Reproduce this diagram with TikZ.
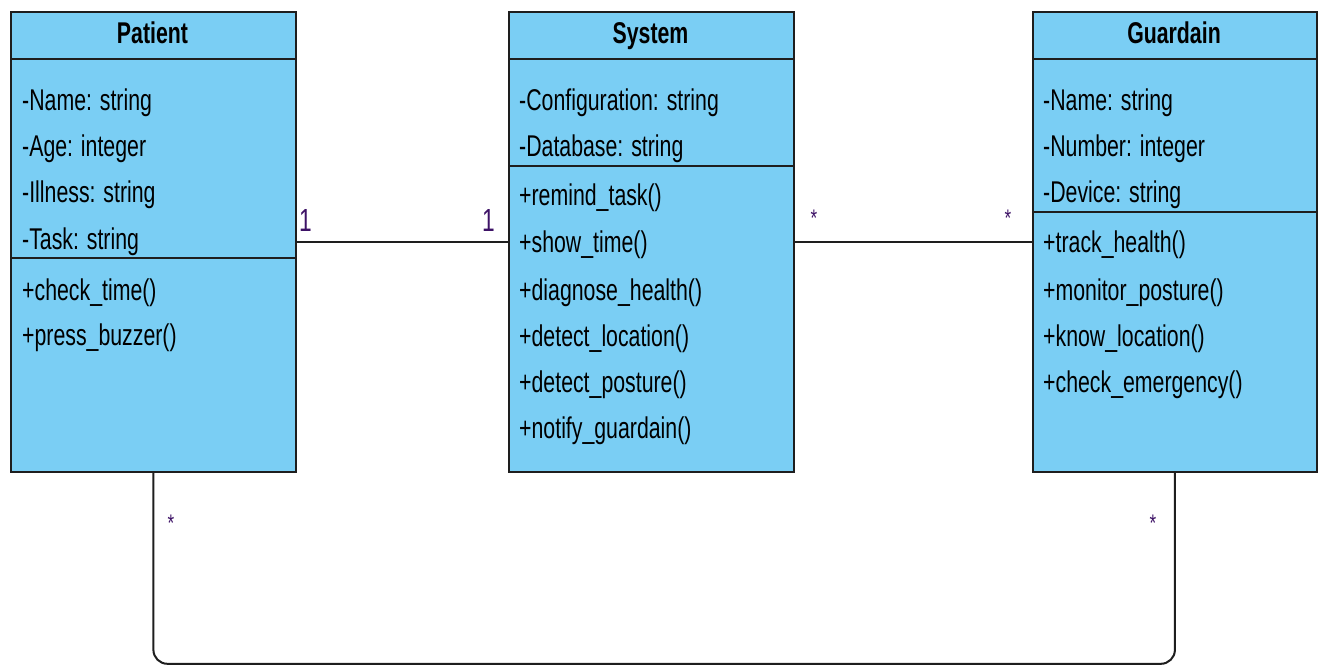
\documentclass[tikz,border=0pt]{standalone}
\usepackage{fontspec}
\newfontfamily\umlfont[FakeStretch=0.71]{Liberation Sans}
\definecolor{classfill}{HTML}{7ACEF4}
\definecolor{edge}{HTML}{1E1E1E}
\definecolor{mult}{HTML}{3D1266}
\begin{document}
\begin{tikzpicture}[x=1pt,y=-1pt,
  classbox/.style={draw=edge, fill=classfill, line width=1.8pt, minimum width=285pt,
    minimum height=460pt, inner sep=0pt, anchor=north west},
  classtitle/.style={font=\umlfont\bfseries\fontsize{30}{32}\selectfont, anchor=base, inner sep=0pt},
  member/.style={font=\umlfont\fontsize{30}{32}\selectfont, anchor=base west, inner sep=0pt},
  sep/.style={draw=edge, line width=1.8pt},
  assoc/.style={draw=edge, line width=2pt},
  multone/.style={font=\umlfont\fontsize{32}{34}\selectfont, text=mult, inner sep=0pt, anchor=base west},
  multmany/.style={font=\umlfont\fontsize{24}{26}\selectfont, text=mult, inner sep=0pt, anchor=base}]

\useasboundingbox (0,0) rectangle (1322,664);

% class boxes
\node[classbox] (patient) at (10,11) {};
\node[classbox] (system) at (508,11) {};
\node[classbox, minimum width=284pt] (guardain) at (1032,11) {};

% compartment separators
\draw[sep] ([yshift=-48pt]patient.north west) -- ([yshift=-48pt]patient.north east);
\draw[sep] ([yshift=-247pt]patient.north west) -- ([yshift=-247pt]patient.north east);
\draw[sep] ([yshift=-48pt]system.north west) -- ([yshift=-48pt]system.north east);
\draw[sep] ([yshift=-155pt]system.north west) -- ([yshift=-155pt]system.north east);
\draw[sep] ([yshift=-48pt]guardain.north west) -- ([yshift=-48pt]guardain.north east);
\draw[sep] ([yshift=-201pt]guardain.north west) -- ([yshift=-201pt]guardain.north east);

% Patient
\node[classtitle] (ptitle) at (152.5,43) {Patient};
\node[member] (p1) at (22,110) {-Name: string};
\node[member] (p2) at (22,156) {-Age: integer};
\node[member] (p3) at (22,202) {-Illness: string};
\node[member] (p4) at (22,249) {-Task: string};
\node[member] (p5) at (22,300) {+check\_time()};
\node[member] (p6) at (22,345) {+press\_buzzer()};

% System
\node[classtitle] (stitle) at (650.5,43) {System};
\node[member] (s1) at (519,110) {-Configuration: string};
\node[member] (s2) at (519,156) {-Database: string};
\node[member] (s3) at (519,205) {+remind\_task()};
\node[member] (s4) at (519,252) {+show\_time()};
\node[member] (s5) at (519,300) {+diagnose\_health()};
\node[member] (s6) at (519,346) {+detect\_location()};
\node[member] (s7) at (519,392) {+detect\_posture()};
\node[member] (s8) at (519,438) {+notify\_guardain()};

% Guardain
\node[classtitle] (gtitle) at (1174,43) {Guardain};
\node[member] (g1) at (1043,110) {-Name: string};
\node[member] (g2) at (1043,156) {-Number: integer};
\node[member] (g3) at (1043,202) {-Device: string};
\node[member] (g4) at (1043,252) {+track\_health()};
\node[member] (g5) at (1043,300) {+monitor\_posture()};
\node[member] (g6) at (1043,346) {+know\_location()};
\node[member] (g7) at (1043,392) {+check\_emergency()};

% associations
\draw[assoc] (patient) -- (system);
\draw[assoc] (system) -- (guardain);
\draw[assoc, rounded corners=14pt] (patient.south) -- ++(0,191) -| (guardain.south);

% multiplicities
\node[multone] (m1) at (299,231) {1};
\node[multone] (m2) at (482,231) {1};
\node[multmany] (m3) at (814,226) {*};
\node[multmany] (m4) at (1008,226) {*};
\node[multmany] (m5) at (171,531) {*};
\node[multmany] (m6) at (1153,531) {*};
\end{tikzpicture}
\end{document}
